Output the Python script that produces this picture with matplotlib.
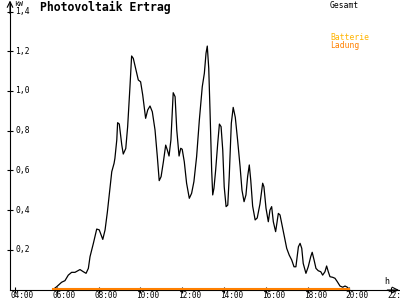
import matplotlib
matplotlib.use('Agg')
from matplotlib import pyplot as plt
from matplotlib.transforms import ScaledTranslation

# hours of the day and PV output (kW)
hours = [5.83, 6.00, 6.23, 6.39, 6.55, 6.71, 6.87, 7.11, 7.27, 7.40, 7.51, 7.59, 7.75, 7.91,
         8.03, 8.20, 8.31, 8.42, 8.55, 8.63, 8.74, 8.78, 8.87, 8.91, 8.99, 9.11, 9.18, 9.30,
         9.39, 9.50, 9.58, 9.66, 9.79, 9.90, 10.01, 10.11, 10.25, 10.35, 10.46, 10.57, 10.70,
         10.81, 10.90, 10.99, 11.10, 11.21, 11.29, 11.37, 11.46, 11.57, 11.66, 11.74, 11.85,
         11.93, 12.00, 12.10, 12.21, 12.34, 12.45, 12.56, 12.69, 12.82, 12.96, 13.06, 13.14,
         13.20, 13.27, 13.33, 13.41, 13.46, 13.52, 13.60, 13.70, 13.78, 13.86, 13.94, 14.01,
         14.10, 14.18, 14.25, 14.35, 14.44, 14.54, 14.65, 14.77, 14.86, 14.96, 15.05, 15.13,
         15.21, 15.28, 15.37, 15.49, 15.59, 15.72, 15.85, 15.91, 16.01, 16.12, 16.20, 16.28,
         16.36, 16.47, 16.60, 16.68, 16.79, 16.89, 17.00, 17.12, 17.24, 17.35, 17.44, 17.56,
         17.64, 17.72, 17.79, 17.92, 18.03, 18.15, 18.22, 18.31, 18.40, 18.51, 18.63, 18.72,
         18.83, 18.91, 18.99, 19.07, 19.20, 19.31, 19.42, 19.55, 19.68, 19.79, 19.90, 20.00]
gesamt = [0.0, 0.014, 0.036, 0.044, 0.072, 0.086, 0.086, 0.100, 0.089, 0.081, 0.106, 0.165,
          0.232, 0.304, 0.300, 0.252, 0.300, 0.390, 0.517, 0.593, 0.635, 0.660, 0.753, 0.840,
          0.833, 0.727, 0.682, 0.710, 0.820, 1.020, 1.176, 1.164, 1.105, 1.055, 1.046, 0.980,
          0.862, 0.904, 0.924, 0.895, 0.803, 0.669, 0.548, 0.568, 0.643, 0.727, 0.702, 0.672,
          0.753, 0.991, 0.971, 0.803, 0.672, 0.711, 0.706, 0.643, 0.535, 0.459, 0.484, 0.543,
          0.669, 0.853, 1.021, 1.089, 1.190, 1.226, 1.114, 0.904, 0.600, 0.476, 0.510, 0.600,
          0.736, 0.833, 0.820, 0.702, 0.517, 0.417, 0.425, 0.568, 0.837, 0.917, 0.867, 0.753,
          0.618, 0.500, 0.442, 0.476, 0.568, 0.627, 0.550, 0.420, 0.350, 0.360, 0.430, 0.535,
          0.517, 0.409, 0.341, 0.400, 0.417, 0.341, 0.291, 0.383, 0.375, 0.316, 0.265, 0.207,
          0.173, 0.148, 0.114, 0.114, 0.215, 0.232, 0.207, 0.131, 0.081, 0.114, 0.165, 0.187,
          0.148, 0.106, 0.094, 0.089, 0.072, 0.089, 0.118, 0.089, 0.064, 0.061, 0.056, 0.039,
          0.017, 0.011, 0.017, 0.011, 0.0]
ladung = [0.0] * len(hours)

x_ticks = [4, 6, 8, 10, 12, 14, 16, 18, 20, 22]
x_labels = ['04:00', '06:00', '08:00', '10:00', '12:00', '14:00', '16:00', '18:00', '20:00', '22:']
y_ticks = [0.2, 0.4, 0.6, 0.8, 1.0, 1.2, 1.4]
y_labels = ['0,2', '0,4', '0,6', '0,8', '1,0', '1,2', '1,4']

mono = 'DejaVu Sans Mono'
orange = '#ff8000'
yellow = '#ffb400'

fig = plt.figure(figsize=(4, 3), dpi=100)
fig.patch.set_facecolor('white')
ax = fig.add_axes([10 / 400, 10 / 300, 389 / 400, 288 / 300])
ax.set_xlim(3.761, 22.373)
ax.set_ylim(-0.003, 1.448)

for s in ['top', 'right']:
    ax.spines[s].set_visible(False)
for s in ['left', 'bottom']:
    ax.spines[s].set_linewidth(0.8)
    ax.spines[s].set_color('black')

ax.plot(hours, gesamt, color='black', lw=0.9, zorder=3)
ax.plot(hours, ladung, color=orange, lw=1.5, zorder=4, clip_on=False)

ax.set_xticks(x_ticks)
ax.set_yticks(y_ticks)
ax.tick_params(direction='inout', length=5, width=0.8, labelbottom=False, labelleft=False)

# tick labels: y to the right of the axis, x left-aligned under the tick
ty = ax.get_yaxis_transform() + ScaledTranslation(5 / 100, 0, fig.dpi_scale_trans)
for v, lab in zip(y_ticks, y_labels):
    ax.text(0, v, lab, transform=ty, ha='left', va='center', fontsize=5.8, family=mono)
tx = ax.get_xaxis_transform() + ScaledTranslation(-4 / 100, -7.8 / 100, fig.dpi_scale_trans)
for h, lab in zip(x_ticks, x_labels):
    ax.text(h, 0, lab, transform=tx, ha='left', va='baseline', fontsize=5.6, family=mono,
            clip_on=False)

# axis arrows
ax.annotate('', xy=(0, 1.005), xytext=(0, 0.96), xycoords='axes fraction',
            arrowprops=dict(arrowstyle='->', lw=0.8, color='black', shrinkA=0, shrinkB=0))
ax.annotate('', xy=(1.0, 0), xytext=(0.97, 0), xycoords='axes fraction',
            arrowprops=dict(arrowstyle='->', lw=0.8, color='black', shrinkA=0, shrinkB=0))

fig.text(40 / 400, 1 - 10.5 / 300, 'Photovoltaik Ertrag', fontsize=8.3, family=mono,
         weight='bold', va='baseline', ha='left')
fig.text(14 / 400, 1 - 1.5 / 300, 'kW', fontsize=5.3, family=mono, va='top', ha='left')
fig.text(384 / 400, 1 - 284 / 300, 'h', fontsize=6, family=mono, va='baseline', ha='left')
fig.text(330 / 400, 1 - 1.5 / 300, 'Gesamt', fontsize=5.8, family=mono, va='top', ha='left')
fig.text(330 / 400, 1 - 32.5 / 300, 'Batterie', fontsize=5.8, family=mono, va='top',
         ha='left', color=yellow)
fig.text(330 / 400, 1 - 41.5 / 300, 'Ladung', fontsize=5.8, family=mono, va='top',
         ha='left', color=orange)

fig.savefig('out.png', dpi=100)
